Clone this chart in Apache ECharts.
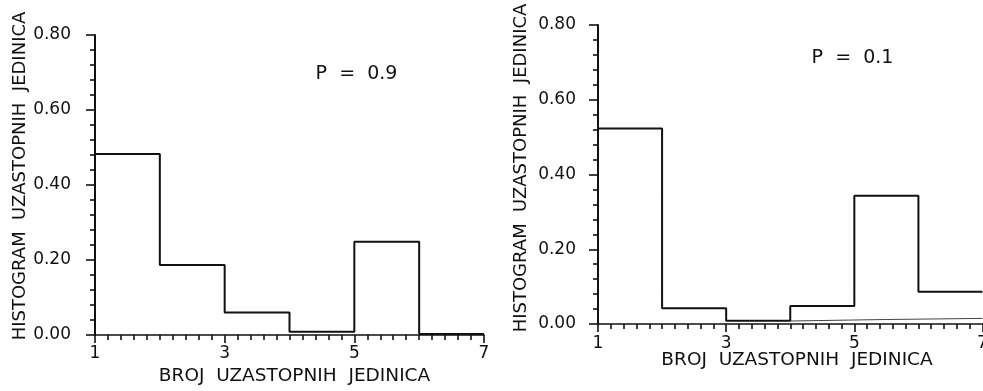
<!DOCTYPE html>
<html>
<head>
<meta charset="utf-8">
<script src="https://cdn.jsdelivr.net/npm/echarts@6/dist/echarts.min.js"></script>
<style>html,body{margin:0;padding:0;background:#fff}#c{width:983px;height:391px}</style>
</head>
<body>
<div id="c"></div>
<script>
// Bin edges (run length) and histogram values
const binEdges = [1, 2, 3, 4, 5, 6, 7];
const histP09 = [0.483, 0.187, 0.060, 0.009, 0.249, 0.003];
const histP01 = [0.523, 0.042, 0.009, 0.048, 0.343, 0.086];
// faint secondary trace near the axis on the right panel
const faintP01 = [[4, 0.008], [5.5, 0.012], [7, 0.015]];
const xTicks = [1, 3, 5, 7];
const yTicks = [0, 0.2, 0.4, 0.6, 0.8];
const yTitle = 'HISTOGRAM  UZASTOPNIH  JEDINICA';
const xTitle = 'BROJ  UZASTOPNIH  JEDINICA';
const labelP09 = 'P  =  0.9';
const labelP01 = 'P  =  0.1';

function stepPoints(edges, vals) {
  const pts = [[edges[0], 0]];
  for (let i = 0; i < vals.length; i++) {
    pts.push([edges[i], vals[i]]);
    pts.push([edges[i + 1], vals[i]]);
  }
  return pts;
}

const FONT = 'DejaVu Sans';
const INK = '#111';

function xAxisCfg(idx, margin) {
  return {
    type: 'value', gridIndex: idx, min: 1, max: 7, interval: 2,
    axisLine: { show: true, onZero: false, lineStyle: { color: INK, width: 1.6 } },
    axisTick: { show: true, inside: false, length: 8, lineStyle: { color: INK, width: 1.6 } },
    minorTick: { show: true, splitNumber: 10, length: 5, lineStyle: { color: INK, width: 1.6 } },
    splitLine: { show: false },
    axisLabel: { color: INK, fontFamily: FONT, fontSize: 17, margin: margin,
      formatter: v => (xTicks.indexOf(v) >= 0 ? String(v) : '') }
  };
}
function yAxisCfg(idx, margin) {
  return {
    type: 'value', gridIndex: idx, min: 0, max: 0.8, interval: 0.2,
    axisLine: { show: true, lineStyle: { color: INK, width: 2 } },
    axisTick: { show: true, inside: false, length: 9, lineStyle: { color: INK, width: 1.6 } },
    minorTick: { show: true, splitNumber: 5, length: 5, lineStyle: { color: INK, width: 1.6 } },
    splitLine: { show: false },
    axisLabel: { color: INK, fontFamily: FONT, fontSize: 17, margin: margin,
      formatter: v => { const t = yTicks.find(y => Math.abs(y - v) < 1e-9); return t === undefined ? '' : t.toFixed(2); } }
  };
}

const chart = echarts.init(document.getElementById('c'), null, { renderer: 'canvas' });
chart.setOption({
  backgroundColor: '#fff',
  animation: false,
  grid: [
    { left: 95, right: 499, top: 35, bottom: 56, containLabel: false, outerBoundsMode: 'none' },
    { left: 598, right: 0.5, top: 25, bottom: 67, containLabel: false, outerBoundsMode: 'none' }
  ],
  xAxis: [xAxisCfg(0, 10), xAxisCfg(1, 11)],
  yAxis: [yAxisCfg(0, 24), yAxisCfg(1, 22)],
  series: [
    { type: 'line', xAxisIndex: 0, yAxisIndex: 0, data: stepPoints(binEdges, histP09),
      symbol: 'none', lineStyle: { color: INK, width: 2 } },
    { type: 'line', xAxisIndex: 1, yAxisIndex: 1, data: stepPoints(binEdges, histP01),
      symbol: 'none', lineStyle: { color: INK, width: 2 } },
    { type: 'line', xAxisIndex: 1, yAxisIndex: 1, data: faintP01,
      symbol: 'none', lineStyle: { color: '#444', width: 1 } }
  ],
  graphic: [
    { type: 'text', x: 20.5, y: 176, rotation: Math.PI / 2,
      style: { text: yTitle, fill: INK, font: '18px "DejaVu Sans"', textAlign: 'center', textVerticalAlign: 'middle' } },
    { type: 'text', x: 521.5, y: 168, rotation: Math.PI / 2,
      style: { text: yTitle, fill: INK, font: '18px "DejaVu Sans"', textAlign: 'center', textVerticalAlign: 'middle' } },
    { type: 'text', x: 294.5, y: 376,
      style: { text: xTitle, fill: INK, font: '18.5px "DejaVu Sans"', textAlign: 'center', textVerticalAlign: 'middle' } },
    { type: 'text', x: 797, y: 360,
      style: { text: xTitle, fill: INK, font: '18.5px "DejaVu Sans"', textAlign: 'center', textVerticalAlign: 'middle' } },
    { type: 'text', x: 356.5, y: 74,
      style: { text: labelP09, fill: INK, font: '19px "DejaVu Sans"', textAlign: 'center', textVerticalAlign: 'middle' } },
    { type: 'text', x: 852.5, y: 58.5,
      style: { text: labelP01, fill: INK, font: '19px "DejaVu Sans"', textAlign: 'center', textVerticalAlign: 'middle' } }
  ]
});
</script>
</body>
</html>
